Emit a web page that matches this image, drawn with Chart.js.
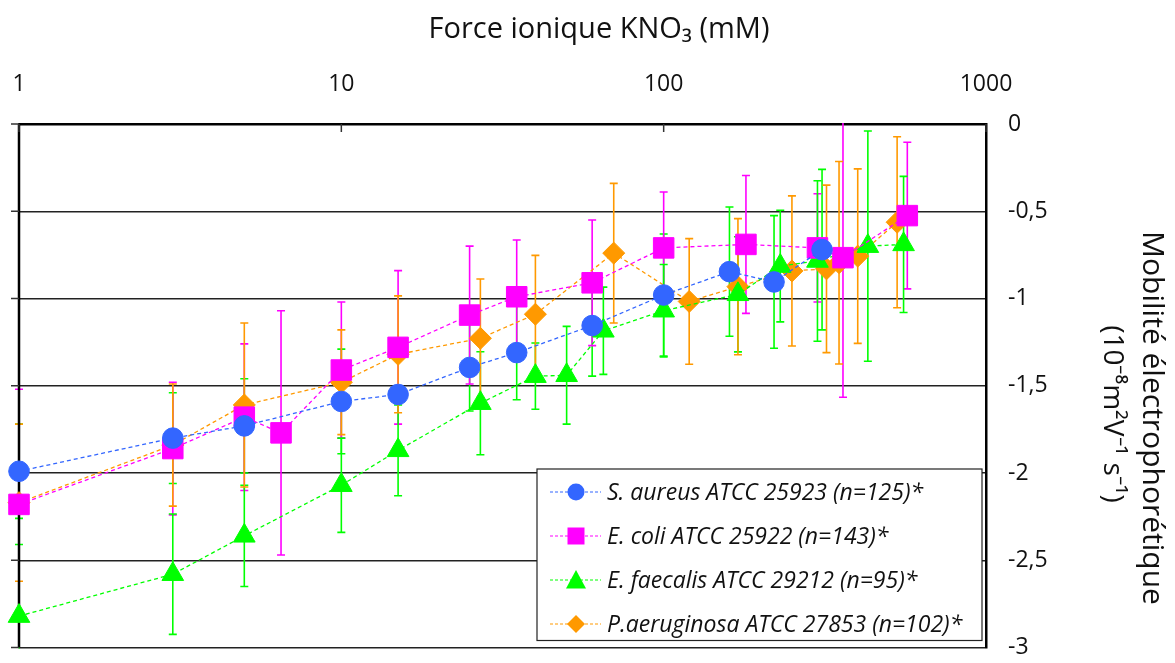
<!DOCTYPE html>
<html>
<head>
<meta charset="utf-8">
<title>Mobilité électrophorétique</title>
<script src="https://cdn.jsdelivr.net/npm/chart.js"></script>
<style>
  html, body { margin: 0; padding: 0; background: #fff; }
  #wrap { width: 1175px; height: 663px; }
</style>
</head>
<body>
<div id="wrap"><canvas id="myChart"></canvas></div>
<script>
// tick labels
const xTicks = [1, 10, 100, 1000];
const yTicks = [0, -0.5, -1, -1.5, -2, -2.5, -3];

const xTitle = 'Force ionique KNO₃ (mM)';
const yTitle = ['Mobilité électrophorétique', '(10⁻⁸m²V⁻¹ s⁻¹)'];

const seriesNames = [
    'S. aureus ATCC 25923 (n=125)*',
    'E. coli ATCC 25922 (n=143)*',
    'E. faecalis ATCC 29212 (n=95)*',
    'P.aeruginosa ATCC 27853 (n=102)*'
];

// S. aureus
const aureusX = [1, 3, 5, 10, 15, 25, 35, 60, 100, 160, 220, 310];
const aureusY = [-1.99, -1.80, -1.73, -1.59, -1.55, -1.395, -1.31, -1.155, -0.98, -0.846, -0.905, -0.72];
const aureusErr = [0.27, 0.26, 0.27, 0.30, 0.05, 0.25, 0.27, 0.29, 0.35, 0.37, 0.38, 0.46];

// E. coli
const coliX = [1, 3, 5, 6.5, 10, 15, 25, 35, 60, 100, 180, 300, 360, 570];
const coliY = [-2.18, -1.86, -1.68, -1.77, -1.41, -1.28, -1.095, -0.99, -0.91, -0.71, -0.69, -0.71, -0.766, -0.525];
const coliErr = [0.66, 0.38, 0.42, 0.70, 0.39, 0.44, 0.395, 0.325, 0.36, 0.32, 0.395, 0.31, 0.80, 0.42];

// E. faecalis
const faecalisX = [1, 3, 5, 10, 15, 27, 40, 50, 65, 100, 170, 230, 300, 430, 555];
const faecalisY = [-2.82, -2.58, -2.36, -2.07, -1.87, -1.60, -1.445, -1.44, -1.185, -1.07, -0.976, -0.814, -0.785, -0.70, -0.69];
const faecalisErr = [0.41, 0.345, 0.29, 0.27, 0.26, 0.295, 0.19, 0.28, 0.25, 0.265, 0.33, 0.32, 0.46, 0.66, 0.39];

// P. aeruginosa
const aeruginosaX = [1, 3, 5, 10, 15, 27, 40, 70, 120, 170, 250, 320, 350, 400, 530];
const aeruginosaY = [-2.17, -1.84, -1.61, -1.48, -1.32, -1.228, -1.09, -0.74, -1.017, -0.932, -0.842, -0.83, -0.795, -0.757, -0.563];
const aeruginosaErr = [0.45, 0.35, 0.47, 0.30, 0.335, 0.34, 0.337, 0.40, 0.36, 0.39, 0.43, 0.48, 0.58, 0.50, 0.49];

const BLUE = '#3366ff';
const MAGENTA = '#ff00ff';
const GREEN = '#00ff00';
const ORANGE = '#ff9900';
const FONT = "'Open Sans', sans-serif";

function toPoints(xs, ys) {
    return xs.map((v, i) => ({ x: v, y: ys[i] }));
}

function makeSet(label, xs, ys, errs, color, errColor, style, radius) {
    return {
        label: label,
        data: toPoints(xs, ys),
        errors: errs,
        errColor: errColor,
        showLine: true,
        clip: false,
        borderColor: color,
        backgroundColor: color,
        borderWidth: 1.3,
        borderDash: [4, 3],
        pointStyle: style,
        pointRadius: radius,
        pointHoverRadius: radius,
        pointBorderWidth: 1,
        pointBorderColor: color,
        pointBackgroundColor: color
    };
}

const datasets = [
    makeSet(seriesNames[0], aureusX, aureusY, aureusErr, BLUE, GREEN, 'circle', 10.3),
    makeSet(seriesNames[1], coliX, coliY, coliErr, MAGENTA, MAGENTA, 'rect', 14.5),
    makeSet(seriesNames[2], faecalisX, faecalisY, faecalisErr, GREEN, GREEN, 'triangle', 12.5),
    makeSet(seriesNames[3], aeruginosaX, aeruginosaY, aeruginosaErr, ORANGE, ORANGE, 'rectRot', 11)
];

// error bars, drawn under the markers
const errorBars = {
    id: 'errorBars',
    beforeDatasetsDraw(chart) {
        const { ctx, chartArea: a, scales: { x, y } } = chart;
        ctx.save();
        ctx.beginPath();
        ctx.rect(a.left - 10, a.top - 1, a.right - a.left + 20, a.bottom - a.top + 2);
        ctx.clip();
        chart.data.datasets.forEach((ds) => {
            ctx.strokeStyle = ds.errColor;
            ctx.lineWidth = 1.6;
            ds.data.forEach((p, i) => {
                const e = ds.errors[i];
                if (!e) return;
                const px = x.getPixelForValue(p.x);
                const y1 = y.getPixelForValue(p.y + e);
                const y2 = y.getPixelForValue(p.y - e);
                ctx.beginPath();
                ctx.moveTo(px, y1); ctx.lineTo(px, y2);
                ctx.moveTo(px - 4, y1); ctx.lineTo(px + 4, y1);
                ctx.moveTo(px - 4, y2); ctx.lineTo(px + 4, y2);
                ctx.stroke();
            });
        });
        ctx.restore();
    }
};

// frame: left border, little stubs, inward ticks on the top axis
const frame = {
    id: 'frame',
    beforeDatasetsDraw(chart) {
        const { ctx, chartArea: a, scales: { x, y } } = chart;
        ctx.save();
        ctx.strokeStyle = '#000';
        ctx.lineWidth = 2.5;
        ctx.beginPath();
        ctx.moveTo(a.left, a.top); ctx.lineTo(a.left, a.bottom);
        ctx.stroke();
        ctx.strokeStyle = '#333';
        ctx.lineWidth = 1.5;
        yTicks.forEach((t) => {
            const py = y.getPixelForValue(t);
            ctx.beginPath();
            ctx.moveTo(a.left - 8, py); ctx.lineTo(a.left, py);
            ctx.stroke();
        });
        xTicks.forEach((t) => {
            const px = x.getPixelForValue(t);
            ctx.beginPath();
            ctx.moveTo(px, a.top); ctx.lineTo(px, a.top + 8);
            ctx.stroke();
        });
        ctx.restore();
    }
};

// axis titles (the originals sit off-centre, so they are placed by hand)
const axisTitles = {
    id: 'axisTitles',
    afterDraw(chart) {
        const ctx = chart.ctx;
        ctx.save();
        ctx.fillStyle = '#111';
        ctx.textAlign = 'center';
        ctx.textBaseline = 'middle';
        ctx.font = '29px ' + FONT;
        ctx.fillText(xTitle, 599, 30);
        ctx.font = '30px ' + FONT;
        ctx.translate(1152, 418);
        ctx.rotate(Math.PI / 2);
        ctx.fillText(yTitle[0], 0, 0);
        ctx.font = '28px ' + FONT;
        ctx.fillText(yTitle[1], -4, 40);
        ctx.restore();
    }
};

function marker(ctx, style, cx, cy, r, color) {
    ctx.fillStyle = color;
    ctx.beginPath();
    if (style === 'circle') {
        ctx.arc(cx, cy, r, 0, Math.PI * 2);
    } else if (style === 'rect') {
        ctx.rect(cx - r, cy - r, 2 * r, 2 * r);
    } else if (style === 'triangle') {
        ctx.moveTo(cx, cy - r);
        ctx.lineTo(cx + r, cy + r * 0.85);
        ctx.lineTo(cx - r, cy + r * 0.85);
        ctx.closePath();
    } else {
        ctx.moveTo(cx, cy - r); ctx.lineTo(cx + r, cy);
        ctx.lineTo(cx, cy + r); ctx.lineTo(cx - r, cy);
        ctx.closePath();
    }
    ctx.fill();
}

const boxLegend = {
    id: 'boxLegend',
    afterDraw(chart) {
        const ctx = chart.ctx;
        const a = chart.chartArea;
        const left = 537, top = 469, right = a.right - 4, bottom = a.bottom - 7;
        const sizes = [8.5, 8.5, 10, 9];
        const styles = ['circle', 'rect', 'triangle', 'diamond'];
        ctx.save();
        ctx.fillStyle = '#fff';
        ctx.fillRect(left, top, right - left, bottom - top);
        ctx.strokeStyle = '#222';
        ctx.lineWidth = 1.2;
        ctx.strokeRect(left, top, right - left, bottom - top);
        chart.data.datasets.forEach((ds, i) => {
            const cy = top + 23 + i * 44;
            ctx.strokeStyle = ds.borderColor;
            ctx.lineWidth = 1.2;
            ctx.setLineDash([3, 2]);
            ctx.beginPath();
            ctx.moveTo(550, cy); ctx.lineTo(601, cy);
            ctx.stroke();
            ctx.setLineDash([]);
            marker(ctx, styles[i], 576, cy, sizes[i], ds.borderColor);
            ctx.fillStyle = '#111';
            ctx.font = 'italic 23px ' + FONT;
            ctx.textBaseline = 'middle';
            ctx.textAlign = 'left';
            ctx.fillText(ds.label, 607, cy + 1);
        });
        ctx.restore();
    }
};

const ctx = document.getElementById('myChart').getContext('2d');
new Chart(ctx, {
    type: 'scatter',
    data: { datasets: datasets },
    plugins: [errorBars, frame, axisTitles, boxLegend],
    options: {
        responsive: true,
        maintainAspectRatio: false,
        animation: false,
        events: [],
        layout: { padding: { left: 19, right: 0, top: 0, bottom: 13 } },
        plugins: {
            legend: { display: false },
            tooltip: { enabled: false }
        },
        scales: {
            x: {
                type: 'logarithmic',
                position: 'top',
                min: 1,
                max: 1000,
                afterBuildTicks: (scale) => {
                    scale.ticks = xTicks.map((v) => ({ value: v }));
                },
                afterFit: (scale) => {
                    scale.height = 124;
                    scale.paddingLeft = 0;
                    scale.paddingRight = 0;
                },
                ticks: {
                    color: '#111',
                    font: { family: FONT, size: 23 },
                    padding: 26,
                    maxRotation: 0,
                    callback: (v) => String(v)
                },
                grid: { display: false, drawTicks: false },
                border: { display: true, color: '#000', width: 2.5 }
            },
            y: {
                type: 'linear',
                position: 'right',
                min: -3,
                max: 0,
                afterBuildTicks: (scale) => {
                    scale.ticks = yTicks.map((v) => ({ value: v }));
                },
                afterFit: (scale) => {
                    scale.width = 189;
                    scale.paddingTop = 0;
                    scale.paddingBottom = 0;
                },
                ticks: {
                    color: '#111',
                    font: { family: FONT, size: 23 },
                    padding: 22,
                    callback: (v) => String(Math.round(v * 10) / 10).replace('.', ',')
                },
                grid: { color: '#222', lineWidth: 1.5, drawTicks: false },
                border: { display: true, color: '#000', width: 2.5 }
            }
        }
    }
});
</script>
</body>
</html>
